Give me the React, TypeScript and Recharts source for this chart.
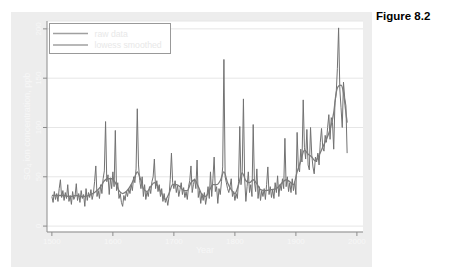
import React from 'react';
import { LineChart, Line, XAxis, YAxis, CartesianGrid } from 'recharts';

const rawYears = [
  1500, 1502, 1504, 1506, 1508, 1510, 1512, 1514, 1516, 1518,
  1520, 1522, 1524, 1526, 1528, 1530, 1532, 1534, 1536, 1538,
  1540, 1542, 1544, 1546, 1548, 1550, 1552, 1554, 1556, 1558,
  1560, 1562, 1564, 1566, 1568, 1570, 1572, 1574, 1576, 1578,
  1580, 1582, 1584, 1586, 1588, 1590, 1592, 1594, 1596, 1598,
  1600, 1602, 1604, 1606, 1608, 1610, 1612, 1614, 1616, 1618,
  1620, 1622, 1624, 1626, 1628, 1630, 1632, 1634, 1636, 1638,
  1640, 1642, 1644, 1646, 1648, 1650, 1652, 1654, 1656, 1658,
  1660, 1662, 1664, 1666, 1668, 1670, 1672, 1674, 1676, 1678,
  1680, 1682, 1684, 1686, 1688, 1690, 1692, 1694, 1696, 1698,
  1700, 1702, 1704, 1706, 1708, 1710, 1712, 1714, 1716, 1718,
  1720, 1722, 1724, 1726, 1728, 1730, 1732, 1734, 1736, 1738,
  1740, 1742, 1744, 1746, 1748, 1750, 1752, 1754, 1756, 1758,
  1760, 1762, 1764, 1766, 1768, 1770, 1772, 1774, 1776, 1778,
  1780, 1782, 1784, 1786, 1788, 1790, 1792, 1794, 1796, 1798,
  1800, 1802, 1804, 1806, 1808, 1810, 1812, 1814, 1816, 1818,
  1820, 1822, 1824, 1826, 1828, 1830, 1832, 1834, 1836, 1838,
  1840, 1842, 1844, 1846, 1848, 1850, 1852, 1854, 1856, 1858,
  1860, 1862, 1864, 1866, 1868, 1870, 1872, 1874, 1876, 1878,
  1880, 1882, 1884, 1886, 1888, 1890, 1892, 1894, 1896, 1898,
  1900, 1902, 1904, 1906, 1908, 1910, 1912, 1914, 1916, 1918,
  1920, 1922, 1924, 1926, 1928, 1930, 1932, 1934, 1936, 1938,
  1940, 1942, 1944, 1946, 1948, 1950, 1952, 1954, 1956, 1958,
  1960, 1962, 1964, 1966, 1968, 1970, 1972, 1974, 1976, 1978,
  1980, 1982, 1984,
];

const rawSulfate = [
  30, 24, 35, 27, 33, 25, 38, 47, 29, 36,
  26, 34, 28, 42, 25, 31, 22, 35, 27, 30,
  43, 26, 33, 24, 36, 28, 32, 20, 38, 26,
  34, 29, 37, 27, 33, 45, 61, 30, 36, 28,
  42, 33, 48, 56, 106, 45, 52, 32, 49, 38,
  55, 40, 97, 36, 44, 28, 33, 24, 20, 31,
  26, 35, 30, 38, 33, 42, 36, 50, 44, 58,
  119, 62, 46, 38, 50, 30, 42, 27, 35, 30,
  40, 33, 45, 50, 68, 38, 46, 35, 42, 30,
  38, 25, 33, 24, 28, 21, 30, 47, 74, 44,
  38, 46, 34, 41, 30, 37, 44, 32, 39, 29,
  35, 27, 40, 46, 61, 34, 42, 48, 38, 67,
  29, 36, 23, 33, 26, 34, 22, 30, 40, 28,
  55, 30, 48, 70, 35, 40, 23, 38, 32, 45,
  60, 169, 50, 44, 38, 34, 40, 48, 30, 35,
  26, 33, 28, 45, 101, 42, 55, 129, 48, 25,
  40, 55, 34, 42, 30, 103, 45, 35, 58, 28,
  40, 26, 36, 30, 38, 27, 42, 60, 32, 40,
  29, 37, 28, 44, 34, 51, 30, 42, 36, 48,
  38, 89, 40, 50, 35, 44, 34, 48, 36, 45,
  32, 95, 60, 55, 78, 65, 128, 80, 68, 98,
  62, 57, 100, 72, 60, 53, 70, 65, 74, 62,
  85, 99, 80, 76, 92, 85, 100, 113, 88, 110,
  105, 78, 125, 134, 160, 201, 139, 120, 100, 146,
  130, 122, 74,
];

const smoothYears = [
  1500, 1510, 1520, 1530, 1540, 1550, 1560, 1570, 1580, 1586,
  1592, 1598, 1604, 1610, 1616, 1622, 1630, 1636, 1640, 1644,
  1650, 1656, 1662, 1668, 1674, 1680, 1686, 1692, 1698, 1704,
  1710, 1716, 1722, 1728, 1734, 1740, 1746, 1752, 1758, 1764,
  1770, 1776, 1782, 1788, 1794, 1800, 1806, 1812, 1818, 1824,
  1830, 1836, 1842, 1850, 1860, 1868, 1876, 1884, 1890, 1896,
  1902, 1908, 1914, 1920, 1926, 1932, 1938, 1944, 1950, 1956,
  1962, 1966, 1970, 1974, 1978, 1982, 1984,
];

const smoothSulfate = [
  31, 31, 31, 30, 31, 30, 31, 34, 40, 46,
  48, 48, 44, 36, 33, 35, 42, 50, 55, 50,
  38, 35, 40, 44, 40, 33, 27, 33, 42, 42,
  40, 36, 36, 44, 47, 40, 32, 30, 36, 42,
  42, 46, 55, 44, 37, 33, 42, 54, 46, 44,
  47, 43, 37, 36, 37, 38, 43, 47, 45, 42,
  55, 66, 77, 73, 70, 66, 72, 80, 88, 98,
  115, 135, 142, 143, 135, 115, 105,
];

const xTicks = [1500, 1600, 1700, 1800, 1900, 2000];
const yTicks = [0, 50, 100, 150, 200];
const legendLabels = ['raw data', 'lowess smoothed'];
const xTitle = 'Year';
const figureTitle = 'Figure 8.2';

const rawData = rawYears.map((year, i) => ({ year, value: rawSulfate[i] }));
const smoothData = smoothYears.map((year, i) => ({ year, value: smoothSulfate[i] }));

const FONT = '"Liberation Sans", Arial, sans-serif';
const TEXT = '#f7f7f7';
const AXIS = '#8c8c8c';

const YTick = (props: any) => {
  const { x, y, payload } = props;
  return (
    <text
      x={x}
      y={y}
      transform={`rotate(-90 ${x} ${y})`}
      textAnchor="middle"
      fill={TEXT}
      fontSize={8}
      fontFamily={FONT}
    >
      {payload.value}
    </text>
  );
};

const YTitle = (props: any) => {
  const vb = props.viewBox || { x: 0, y: 0, width: 36, height: 211 };
  const cx = vb.x + 19;
  const cy = vb.y + vb.height / 2;
  return (
    <text
      x={cx}
      y={cy}
      transform={`rotate(-90 ${cx} ${cy})`}
      textAnchor="middle"
      fill={TEXT}
      fontSize={9}
      fontFamily={FONT}
    >
      SO<tspan dy={2} fontSize={6.5}>4</tspan>
      <tspan dy={-2}> ion concentration, ppb</tspan>
    </text>
  );
};

const XTitle = (props: any) => {
  const vb = props.viewBox || { x: 36, y: 220, width: 316, height: 35 };
  return (
    <text
      x={vb.x + vb.width / 2}
      y={vb.y + 21}
      textAnchor="middle"
      fill={TEXT}
      fontSize={9}
      fontFamily={FONT}
    >
      {xTitle}
    </text>
  );
};

export default function App() {
  return (
    <div style={{ position: 'absolute', left: 0, top: 0, width: 458, height: 272, background: '#ffffff' }}>
      <div style={{ position: 'absolute', left: 11, top: 12, width: 361, height: 255, background: '#ededed' }} />
      <div style={{ position: 'absolute', left: 11, top: 12 }}>
        <LineChart width={361} height={255} margin={{ top: 9, right: 9, left: 0, bottom: 0 }}>
          <CartesianGrid horizontal vertical={false} fill="#ffffff" stroke="#e6e6e6" />
          <XAxis
            type="number"
            dataKey="year"
            domain={[1492, 2010]}
            ticks={xTicks}
            allowDataOverflow
            height={35}
            tickSize={4}
            tickMargin={2}
            stroke={AXIS}
            tick={{ fill: TEXT, fontSize: 8, fontFamily: FONT }}
            label={<XTitle />}
          />
          <YAxis
            type="number"
            domain={[-6, 208]}
            ticks={yTicks}
            allowDataOverflow
            width={36}
            tickSize={4}
            tickMargin={2}
            stroke={AXIS}
            tick={<YTick />}
            label={<YTitle />}
          />
          <Line
            data={rawData}
            dataKey="value"
            type="linear"
            stroke="#727272"
            strokeWidth={1}
            dot={false}
            isAnimationActive={false}
          />
          <Line
            data={smoothData}
            dataKey="value"
            type="monotone"
            stroke="#7c7c7c"
            strokeWidth={1.3}
            dot={false}
            isAnimationActive={false}
          />
        </LineChart>
      </div>
      <svg style={{ position: 'absolute', left: 0, top: 0 }} width={458} height={272}>
        <rect x={49.5} y={23.5} width={121} height={30} fill="#ffffff" stroke="#999999" />
        <line x1={53} x2={88} y1={33.5} y2={33.5} stroke="#a0a0a0" strokeWidth={1.5} />
        <line x1={53} x2={88} y1={45} y2={45} stroke="#a0a0a0" strokeWidth={1.5} />
        <text x={94.5} y={36.5} fill="#e8e8e8" fontSize={8.7} fontFamily={FONT}>{legendLabels[0]}</text>
        <text x={94.5} y={48} fill="#e8e8e8" fontSize={8.7} fontFamily={FONT}>{legendLabels[1]}</text>
        <text x={376} y={20} fill="#000000" fontSize={11.5} fontWeight="bold" fontFamily={FONT}>{figureTitle}</text>
      </svg>
    </div>
  );
}
